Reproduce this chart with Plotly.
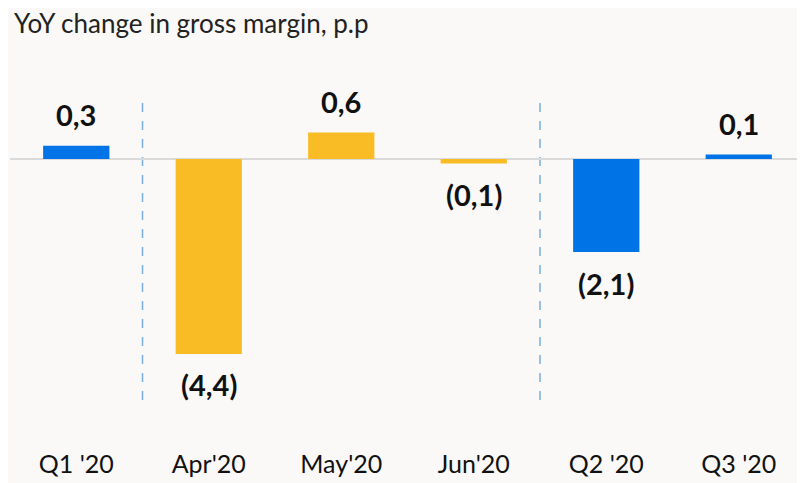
import plotly.graph_objects as go

categories = ["Q1 '20", "Apr'20", "May'20", "Jun'20", "Q2 '20", "Q3 '20"]
values = [0.3, -4.4, 0.6, -0.1, -2.1, 0.1]
labels = ["0,3", "(4,4)", "0,6", "(0,1)", "(2,1)", "0,1"]
colors = ["#0073E6", "#F9BC24", "#F9BC24", "#F9BC24", "#0073E6", "#0073E6"]
separators = [0.5, 3.5]

# page body has an 8px margin, so the figure is laid out 8px up/left of screen coordinates
OFF = 8
PLOT_BOTTOM = 447
fig = go.Figure()
fig.add_trace(go.Bar(x=list(range(len(categories))), y=values, marker=dict(color=colors, line=dict(width=0)),
                     width=0.5, hoverinfo="skip"))

for i, (v, t) in enumerate(zip(values, labels)):
    fig.add_annotation(x=i, y=v, text=t, showarrow=False, xref="x", yref="y",
                       yanchor="middle", yshift=31 if v >= 0 else -31,
                       font=dict(family="Lato", size=29, color="#111111", weight="bold"))

for s in separators:
    fig.add_shape(type="line", x0=s, x1=s, y0=-5.44, y1=1.33, xref="x", yref="y",
                  line=dict(color="#7AAEE0", width=1.5, dash="dash"), layer="below")

fig.add_annotation(text="YoY change in gross margin, p.p", xref="paper", yref="paper",
                   x=0.0025, y=(PLOT_BOTTOM - 23) / (PLOT_BOTTOM - 60), xanchor="left", yanchor="middle",
                   showarrow=False, font=dict(family="Lato", size=26, color="#222222"))

fig.update_layout(
    width=805 - OFF, height=483 - OFF,
    margin=dict(l=10 - OFF, r=0, t=60 - OFF, b=483 - PLOT_BOTTOM, autoexpand=False),
    paper_bgcolor="#FAF9F7", plot_bgcolor="#FAF9F7",
    showlegend=False,
    xaxis=dict(tickmode="array", tickvals=list(range(len(categories))), ticktext=categories,
               range=[-0.5, 5.5], showgrid=False, showline=False, zeroline=False, automargin=False,
               tickfont=dict(family="Lato", size=25, color="#111111")),
    yaxis=dict(range=[-(PLOT_BOTTOM - 159) / 44.3, 2.235], showgrid=False, showticklabels=False,
               zeroline=True, automargin=False,
               zerolinecolor="#DADADA", zerolinewidth=1.5, showline=False),
)

fig.write_html("out.html")
